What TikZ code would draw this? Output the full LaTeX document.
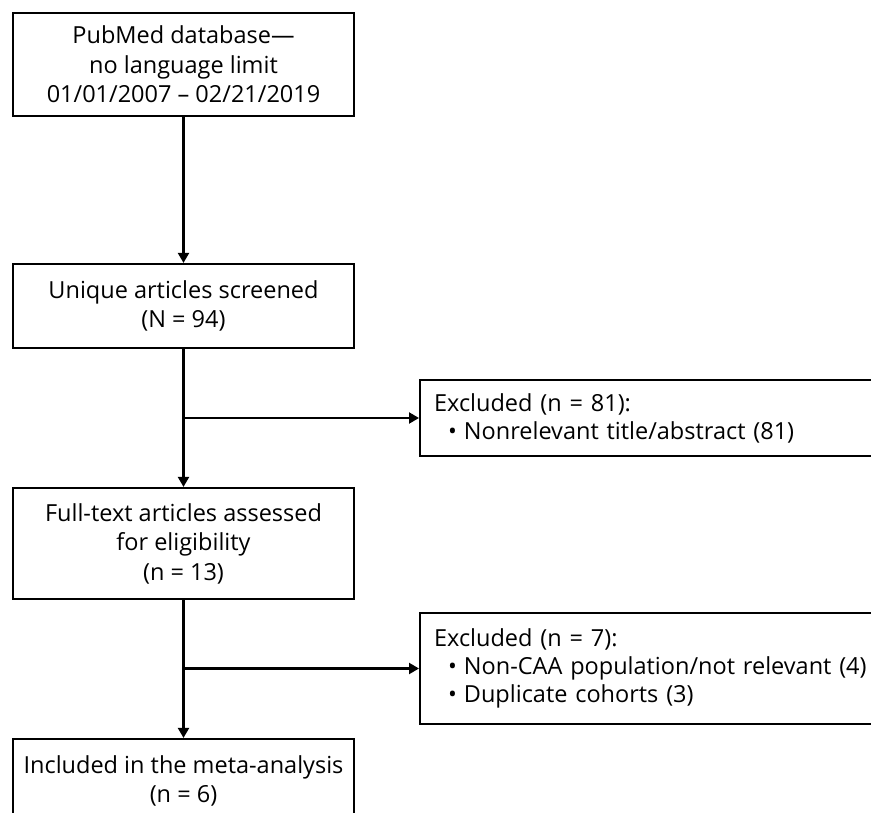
\documentclass[tikz,border=0pt]{standalone}
\usepackage{fontspec}
\setmainfont{Open Sans}
\usetikzlibrary{arrows.meta}
\tikzset{
  flowbox/.style={draw, line width=2.2pt, minimum width=341pt, align=center, inner sep=0pt, font=\fontsize{23.5}{29.5}\selectfont},
  exbox/.style={draw, line width=2.2pt, anchor=west, text width=440pt, align=left, inner xsep=14pt, inner ysep=0pt, font=\fontsize{23.5}{28}\selectfont},
  flowarrow/.style={line width=2.2pt, -{Triangle[width=11pt,length=10pt]}}
}
\newcommand{\exitem}{\hspace*{14pt}\textbullet\hspace{7pt}}
\begin{document}
\begin{tikzpicture}[x=1pt, y=-1pt]
				\useasboundingbox (0,0) rectangle (871,813);
				\clip (0,0) rectangle (871,813);
				\fill[white] (0,0) rectangle (871,813);
				\node[flowbox, minimum height=103pt] (pubmed) at (183.5,64.5) {PubMed database—\\no language limit\\01/01/2007 – 02/21/2019};
				\node[flowbox, minimum height=84pt] (screened) at (183.5,306) {Unique articles screened\\(N = 94)};
				\node[flowbox, minimum height=111pt] (fulltext) at (183.5,543.5) {Full-text articles assessed\\for eligibility\\(n = 13)};
				\node[flowbox, minimum height=84pt] (included) at (183.5,781) {Included in the meta-analysis\\(n = 6)};
				\node[exbox, minimum height=76pt] (excl1) at (419,418) {Excluded (n = 81):\\\exitem Nonrelevant title/abstract (81)};
				\node[exbox, minimum height=111pt] (excl2) at (419,668.5) {Excluded (n = 7):\\\exitem Non-CAA population/not relevant (4)\\\exitem Duplicate cohorts (3)};
				\draw[flowarrow] (pubmed) -- (screened);
				\draw[flowarrow] (screened) -- (fulltext);
				\draw[flowarrow] (screened.south |- excl1.west) -- (excl1.west);
				\draw[flowarrow] (fulltext) -- (included);
				\draw[flowarrow] (fulltext.south |- excl2.west) -- (excl2.west);
			\end{tikzpicture}
\end{document}
